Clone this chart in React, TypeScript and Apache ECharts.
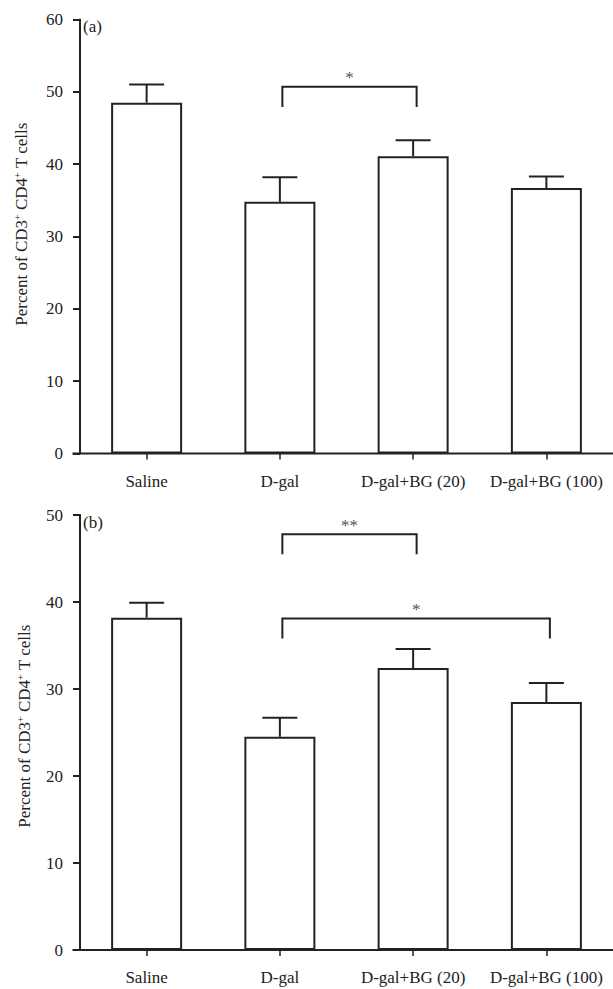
import React, { useEffect, useRef } from 'react';
import * as echarts from 'echarts';

const categories = ['Saline', 'D-gal', 'D-gal+BG (20)', 'D-gal+BG (100)'];

// Panel (a)
const meansA = [48.5, 34.8, 41.1, 36.7];
const errorsA = [2.5, 3.4, 2.2, 1.6];
const yMaxA = 60;
const yStepA = 10;
// brackets: [fromIndex, toIndex, level, legEnd]
const bracketsA = [[1, 2, 50.7, 47.9]];
const bracketLabelsA = ['*'];

// Panel (b)
const meansB = [38.2, 24.5, 32.4, 28.5];
const errorsB = [1.7, 2.2, 2.2, 2.2];
const yMaxB = 50;
const yStepB = 10;
const bracketsB = [
  [1, 2, 47.8, 45.5],
  [1, 3, 38.1, 35.8],
];
const bracketLabelsB = ['**', '*'];

const panelLabels = ['(a)', '(b)'];
const yTitle = 'Percent of CD3{sup|+} CD4{sup|+} T cells';

const FONT = 'Liberation Serif';
const INK = '#222';

const GRID_LEFT = 80;
const GRID_W = 539;
const GRID_A_TOP = 19.5;
const GRID_A_H = 434;
const GRID_B_TOP = 515;
const GRID_B_H = 435;

function errorSeries(means: number[], errs: number[], idx: number) {
  return {
    type: 'custom',
    xAxisIndex: idx,
    yAxisIndex: idx,
    z: 5,
    encode: { x: 0, y: [1, 2] },
    data: means.map((m, i) => [i, m, m + errs[i]]),
    renderItem: (_p: any, api: any) => {
      const x = api.value(0);
      const lo = api.coord([x, api.value(1)]);
      const hi = api.coord([x, api.value(2)]);
      const cap = 17.5;
      const st = { stroke: INK, lineWidth: 2 };
      return {
        type: 'group',
        children: [
          { type: 'line', shape: { x1: lo[0], y1: lo[1], x2: hi[0], y2: hi[1] }, style: st },
          { type: 'line', shape: { x1: hi[0] - cap, y1: hi[1], x2: hi[0] + cap, y2: hi[1] }, style: st },
        ],
      };
    },
  };
}

function bracketSeries(brackets: number[][], labels: string[], idx: number) {
  return {
    type: 'custom',
    xAxisIndex: idx,
    yAxisIndex: idx,
    z: 5,
    clip: false,
    encode: { x: [0, 1], y: [2, 3] },
    data: brackets,
    renderItem: (p: any, api: any) => {
      const a = api.coord([api.value(0), api.value(2)]);
      const b = api.coord([api.value(1), api.value(2)]);
      const leg = api.coord([api.value(0), api.value(3)]);
      const x1 = a[0] + 2.5;
      const x2 = b[0] + 3.5;
      const st = { stroke: INK, lineWidth: 2, fill: 'none' };
      return {
        type: 'group',
        children: [
          {
            type: 'polyline',
            shape: { points: [[x1, leg[1]], [x1, a[1]], [x2, a[1]], [x2, leg[1]]] },
            style: st,
          },
          {
            type: 'text',
            style: {
              text: labels[p.dataIndex],
              x: (x1 + x2) / 2,
              y: a[1] - 9,
              align: 'center',
              verticalAlign: 'middle',
              textAlign: 'center',
              textVerticalAlign: 'middle',
              fontSize: 17,
              fontFamily: FONT,
              fill: '#555',
            },
          },
        ],
      };
    },
  };
}

function xAxisCfg(idx: number) {
  return {
    type: 'category',
    gridIndex: idx,
    data: categories,
    boundaryGap: true,
    offset: 2,
    axisLine: { show: false },
    axisTick: { show: true, alignWithLabel: true, length: 6, lineStyle: { color: INK, width: 1.5 } },
    axisLabel: { margin: 17, fontSize: 17, fontFamily: FONT, color: INK, interval: 0 },
    splitLine: { show: false },
  };
}

function yAxisCfg(idx: number, max: number, step: number) {
  return {
    type: 'value',
    gridIndex: idx,
    min: 0,
    max,
    interval: step,
    axisLine: { show: true, lineStyle: { color: INK, width: 2 } },
    axisTick: { show: true, inside: false, length: 7, lineStyle: { color: INK, width: 2 } },
    axisLabel: { margin: 17, fontSize: 17, fontFamily: FONT, color: INK },
    splitLine: { show: false },
  };
}

function barSeries(means: number[], idx: number) {
  return {
    type: 'bar',
    xAxisIndex: idx,
    yAxisIndex: idx,
    data: means,
    barWidth: 71,
    z: 3,
    itemStyle: { color: '#ffffff', borderColor: INK, borderWidth: 2 },
  };
}

function yTitleText(cx: number, cy: number) {
  return {
    type: 'text',
    x: cx,
    y: cy,
    rotation: Math.PI / 2,
    style: {
      text: yTitle,
      fontSize: 17,
      fontFamily: FONT,
      fill: INK,
      align: 'center',
      verticalAlign: 'middle',
      textAlign: 'center',
      textVerticalAlign: 'middle',
      rich: {
        sup: { fontSize: 10, fontFamily: FONT, fill: INK, verticalAlign: 'top', lineHeight: 10 },
      },
    },
  };
}

function panelText(label: string, cy: number) {
  return {
    type: 'text',
    x: 83,
    y: cy,
    style: {
      text: label,
      fontSize: 17,
      fontFamily: FONT,
      fill: INK,
      align: 'left',
      verticalAlign: 'middle',
      textAlign: 'left',
      textVerticalAlign: 'middle',
    },
  };
}

function baseLine(y: number) {
  return {
    type: 'line',
    shape: { x1: 72.5, y1: y, x2: 613, y2: y },
    style: { stroke: INK, lineWidth: 2 },
    z: 10,
  };
}

export default function App() {
  const ref = useRef<HTMLDivElement>(null);
  useEffect(() => {
    if (!ref.current) return;
    const chart = echarts.init(ref.current, undefined, { renderer: 'svg' });
    chart.setOption({
      animation: false,
      backgroundColor: '#ffffff',
      textStyle: { fontFamily: FONT },
      grid: [
        { left: GRID_LEFT, top: GRID_A_TOP, width: GRID_W, height: GRID_A_H, containLabel: false },
        { left: GRID_LEFT, top: GRID_B_TOP, width: GRID_W, height: GRID_B_H, containLabel: false },
      ],
      xAxis: [xAxisCfg(0), xAxisCfg(1)],
      yAxis: [yAxisCfg(0, yMaxA, yStepA), yAxisCfg(1, yMaxB, yStepB)],
      series: [
        barSeries(meansA, 0),
        errorSeries(meansA, errorsA, 0),
        bracketSeries(bracketsA, bracketLabelsA, 0),
        barSeries(meansB, 1),
        errorSeries(meansB, errorsB, 1),
        bracketSeries(bracketsB, bracketLabelsB, 1),
      ],
      graphic: [
        baseLine(GRID_A_TOP + GRID_A_H),
        baseLine(GRID_B_TOP + GRID_B_H),
        panelText(panelLabels[0], 26),
        panelText(panelLabels[1], 522),
        yTitleText(21, 224),
        yTitleText(24, 726),
      ],
    });
    return () => chart.dispose();
  }, []);
  return (
    <div
      ref={ref}
      style={{ position: 'absolute', left: 0, top: 0, width: 613, height: 989, background: '#fff' }}
    />
  );
}
